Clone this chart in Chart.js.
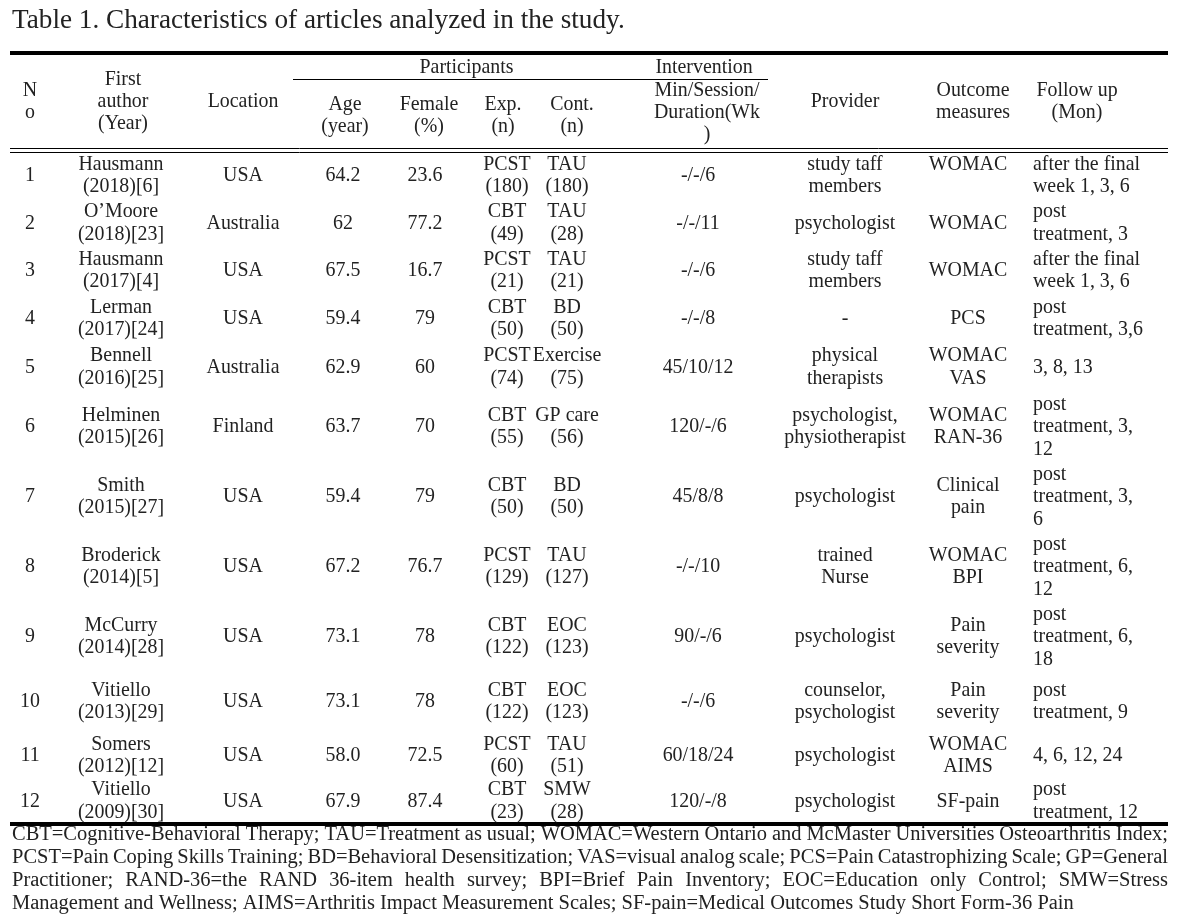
<!DOCTYPE html>
<html>
<head>
<meta charset="utf-8">
<script src="https://cdn.jsdelivr.net/npm/chart.js@4/dist/chart.umd.min.js"></script>
<style>
html,body{margin:0;padding:0;background:#fff;}
canvas{display:block;}
</style>
</head>
<body>
<canvas id="c" width="1187" height="924"></canvas>
<script>
// ---------------- DATA ----------------
const title = "Table 1. Characteristics of articles analyzed in the study.";
const groupHeaders = ["Participants", "Intervention"];
const columnHeaders = [
  ["N", "o"], ["First", "author", "(Year)"], ["Location"],
  ["Age", "(year)"], ["Female", "(%)"], ["Exp.", "(n)"], ["Cont.", "(n)"],
  ["Min/Session/", "Duration(Wk", ")"], ["Provider"], ["Outcome", "measures"], ["Follow up", "(Mon)"]
];
const studyNo = ["1","2","3","4","5","6","7","8","9","10","11","12"];
const authors = [
  ["Hausmann","(2018)[6]"], ["O\u2019Moore","(2018)[23]"], ["Hausmann","(2017)[4]"],
  ["Lerman","(2017)[24]"], ["Bennell","(2016)[25]"], ["Helminen","(2015)[26]"],
  ["Smith","(2015)[27]"], ["Broderick","(2014)[5]"], ["McCurry","(2014)[28]"],
  ["Vitiello","(2013)[29]"], ["Somers","(2012)[12]"], ["Vitiello","(2009)[30]"]
];
const locations = ["USA","Australia","USA","USA","Australia","Finland","USA","USA","USA","USA","USA","USA"];
const ages = ["64.2","62","67.5","59.4","62.9","63.7","59.4","67.2","73.1","73.1","58.0","67.9"];
const femalePct = ["23.6","77.2","16.7","79","60","70","79","76.7","78","78","72.5","87.4"];
const expGroups = [
  ["PCST","(180)"], ["CBT","(49)"], ["PCST","(21)"], ["CBT","(50)"], ["PCST","(74)"], ["CBT","(55)"],
  ["CBT","(50)"], ["PCST","(129)"], ["CBT","(122)"], ["CBT","(122)"], ["PCST","(60)"], ["CBT","(23)"]
];
const contGroups = [
  ["TAU","(180)"], ["TAU","(28)"], ["TAU","(21)"], ["BD","(50)"], ["Exercise","(75)"], ["GP care","(56)"],
  ["BD","(50)"], ["TAU","(127)"], ["EOC","(123)"], ["EOC","(123)"], ["TAU","(51)"], ["SMW","(28)"]
];
const interventions = ["-/-/6","-/-/11","-/-/6","-/-/8","45/10/12","120/-/6","45/8/8","-/-/10","90/-/6","-/-/6","60/18/24","120/-/8"];
const providers = [
  ["study taff","members"], ["psychologist"], ["study taff","members"], ["-"],
  ["physical","therapists"], ["psychologist,","physiotherapist"], ["psychologist"], ["trained","Nurse"],
  ["psychologist"], ["counselor,","psychologist"], ["psychologist"], ["psychologist"]
];
const outcomes = [
  ["WOMAC",""], ["WOMAC"], ["WOMAC"], ["PCS"], ["WOMAC","VAS"], ["WOMAC","RAN-36"],
  ["Clinical","pain"], ["WOMAC","BPI"], ["Pain","severity"], ["Pain","severity"], ["WOMAC","AIMS"], ["SF-pain"]
];
const followUps = [
  ["after the final","week 1, 3, 6"], ["post","treatment, 3"], ["after the final","week 1, 3, 6"],
  ["post","treatment, 3,6"], ["3, 8, 13"], ["post","treatment, 3,","12"], ["post","treatment, 3,","6"],
  ["post","treatment, 6,","12"], ["post","treatment, 6,","18"], ["post","treatment, 9"],
  ["4, 6, 12, 24"], ["post","treatment, 12"]
];
const footnotes = [
  "CBT=Cognitive-Behavioral Therapy; TAU=Treatment as usual; WOMAC=Western Ontario and McMaster Universities Osteoarthritis Index;",
  "PCST=Pain Coping Skills Training; BD=Behavioral Desensitization; VAS=visual analog scale; PCS=Pain Catastrophizing Scale; GP=General",
  "Practitioner; RAND-36=the RAND 36-item health survey; BPI=Brief Pain Inventory; EOC=Education only Control; SMW=Stress",
  "Management and Wellness; AIMS=Arthritis Impact Measurement Scales; SF-pain=Medical Outcomes Study Short Form-36 Pain"
];

// ---------------- LAYOUT ----------------
const FONT = '"Liberation Serif", "DejaVu Serif", serif';
const INK = '#222';
const L = {
  W: 1187, H: 924,
  tableLeft: 10, tableRight: 1168,
  bodyTop: 151, bodyBottom: 822,
  lineH: 22.5,
  colX: [20, 111, 233, 333, 415, 497, 557, 688, 835, 958, 1023],
  colAlign: ['center','center','center','center','center','center','center','center','center','center','left'],
  headX: [20, 113, 233, 335, 419, 493, 562, 697, 835, 963, 1067],
  headCenterY: [102, 102, 102, 116, 116, 116, 116, 113, 102, 102, 102],
  groupSpan: [[283, 630], [630, 758]],
  groupY: 68, groupRuleY: 79.5, groupRule: [283, 758],
  rowHeights: [48,47,48,48,49,70,70,70,70,60,48,43],
  titleX: 12, titleY: 21, titleW: 613,
  topRuleY: 53, topRuleW: 4,
  dblRuleY: [148, 152],
  botRuleY: 824, botRuleW: 4,
  noteX: 12, noteW: 1156, noteY: 835, noteLH: 23, noteLastW: 1083, noteMinGap: 4
};

function fit(ctx, text, target){
  ctx.font = '100px ' + FONT;
  return 100 * target / ctx.measureText(text).width;
}

const tablePlugin = {
  id: 'tableDraw',
  beforeDraw(chart){
    const c = chart.ctx;
    c.save(); c.fillStyle = '#fff'; c.fillRect(0,0,chart.width,chart.height); c.restore();
  },
  afterDraw(chart){
    const c = chart.ctx;
    const xs = chart.scales.x, ys = chart.scales.y;
    const X = v => xs.getPixelForValue(v);
    const Y = v => ys.getPixelForValue(v);
    c.save();
    c.fillStyle = INK; c.strokeStyle = '#000';
    c.textBaseline = 'middle';

    const bodySize = (fit(c, 'Australia', 72) + fit(c, 'psychologist', 102)) / 2;
    const titleSize = fit(c, title, L.titleW);

    // footnote size: the last line sets the scale, but the justified lines must still fit
    let noteSize = fit(c, footnotes[3], L.noteLastW);
    for (let i = 0; i < footnotes.length - 1; i++) {
      const words = footnotes[i].split(' ');
      c.font = '100px ' + FONT;
      const w = words.reduce((a, t) => a + c.measureText(t).width, 0);
      const avail = L.noteW - L.noteMinGap * (words.length - 1);
      noteSize = Math.min(noteSize, 100 * avail / w);
    }

    // title
    c.font = titleSize + 'px ' + FONT;
    c.textAlign = 'left';
    c.fillText(title, L.titleX, L.titleY);

    // rules
    const x0 = X(0), x1 = X(L.tableRight - L.tableLeft);
    function hline(y, w, a, b){ c.beginPath(); c.lineWidth = w; c.moveTo(a, y); c.lineTo(b, y); c.stroke(); }
    hline(L.topRuleY, L.topRuleW, x0, x1);
    L.dblRuleY.forEach(y => hline(y + 0.5, 1, x0, x1));
    hline(L.botRuleY, L.botRuleW, x0, x1);
    hline(L.groupRuleY, 1, X(L.groupRule[0]), X(L.groupRule[1]));

    c.font = bodySize + 'px ' + FONT;
    c.textAlign = 'center';
    groupHeaders.forEach((g, i) => {
      const s = L.groupSpan[i];
      c.fillText(g, X((s[0] + s[1]) / 2), L.groupY);
    });
    columnHeaders.forEach((lines, j) => {
      const n = lines.length;
      lines.forEach((t, k) => {
        c.fillText(t, X(L.headX[j]), L.headCenterY[j] + (k - (n - 1) / 2) * 22);
      });
    });

    // body
    const columns = [studyNo, authors, locations, ages, femalePct, expGroups, contGroups, interventions, providers, outcomes, followUps];
    let top = 0;
    studyNo.forEach((_, i) => {
      const h = L.rowHeights[i];
      const cy = Y(top + h / 2);
      columns.forEach((col, j) => {
        const v = col[i];
        const lines = Array.isArray(v) ? v : [v];
        const n = lines.length;
        c.textAlign = L.colAlign[j];
        lines.forEach((t, k) => {
          if (t) c.fillText(t, X(L.colX[j]), cy + 1 + (k - (n - 1) / 2) * L.lineH);
        });
      });
      top += h;
    });

    // footnotes (first lines justified)
    c.font = noteSize + 'px ' + FONT;
    c.textAlign = 'left';
    footnotes.forEach((line, i) => {
      const y = L.noteY + i * L.noteLH;
      if (i === footnotes.length - 1) { c.fillText(line, L.noteX, y); return; }
      const words = line.split(' ');
      const ww = words.map(w => c.measureText(w).width);
      const total = ww.reduce((a, b) => a + b, 0);
      const gap = (L.noteW - total) / (words.length - 1);
      let x = L.noteX;
      words.forEach((w, k) => { c.fillText(w, x, y); x += ww[k] + gap; });
    });
    c.restore();
  }
};

const totalUnits = L.rowHeights.reduce((a, b) => a + b, 0);
new Chart(document.getElementById('c').getContext('2d'), {
  type: 'scatter',
  data: { datasets: [{ data: [] }] },
  options: {
    responsive: false, animation: false, events: [],
    layout: { padding: { left: L.tableLeft, right: L.W - L.tableRight, top: L.bodyTop, bottom: L.H - L.bodyBottom } },
    scales: {
      x: { type: 'linear', min: 0, max: L.tableRight - L.tableLeft, display: false },
      y: { type: 'linear', min: 0, max: totalUnits, reverse: true, display: false }
    },
    plugins: { legend: { display: false }, tooltip: { enabled: false } }
  },
  plugins: [tablePlugin]
});
</script>
</body>
</html>
